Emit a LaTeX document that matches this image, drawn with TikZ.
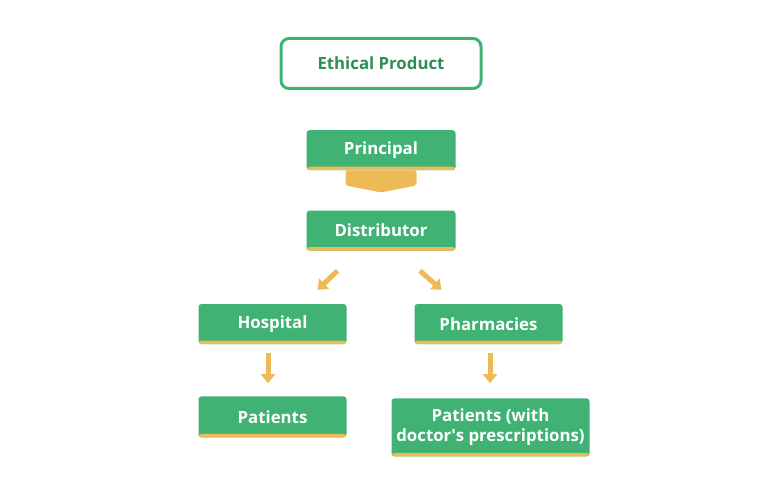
\documentclass[tikz,border=0pt]{standalone}
\usepackage{fontspec}
\setmainfont{Open Sans}
\usepackage{tikz}
\usetikzlibrary{positioning}
\usetikzlibrary{arrows.meta}
\usetikzlibrary{calc}
\definecolor{boxgreen}{RGB}{64,178,115}
\definecolor{textgreen}{RGB}{48,140,88}
\definecolor{stripe}{RGB}{236,187,85}
\tikzset{main box/.style={rectangle,fill=boxgreen,rounded corners=3pt,minimum width=149pt,minimum height=40pt,inner sep=0pt,
    text=white,font=\bfseries\fontsize{16.8}{20}\selectfont,align=center,
    path picture={\fill[stripe] (path picture bounding box.south west) rectangle ([yshift=3.5pt]path picture bounding box.south east);}},}
\tikzset{flow arrow/.style={draw=stripe,line width=5pt,-{Triangle[width=14pt,length=9pt]}},}

\begin{document}
\begin{tikzpicture}[x=1pt, y=-1pt, node distance=40pt]
	\useasboundingbox (0,0) rectangle (768,492);
	\node[draw=boxgreen, line width=3pt, rounded corners=8pt, minimum width=200pt, minimum height=50pt, text=textgreen, font=\bfseries\fontsize{16.8}{20}\selectfont] (ethical) at (381,63.5) {Ethical Product};
	\node[main box] (principal) [below = 40pt of ethical] {Principal};
	\node[main box] (distributor) [below = 40pt of principal] {Distributor};
	\node[main box, minimum width=148pt] (hospital) [below = 53pt of distributor, xshift=-108.5pt] {Hospital};
	\node[main box, minimum width=148pt] (pharmacies) [below = 53pt of distributor, xshift=107.5pt] {Pharmacies};
	\node[main box, minimum width=148pt, minimum height=41pt] (patients) [below = 52pt of hospital] {Patients};
	\node[main box, minimum width=198pt, minimum height=58pt] (patientsrx) [below = 54pt of pharmacies, xshift=2pt] {Patients (with\\doctor\textquotesingle s prescriptions)};

	% chevron between principal and distributor
	\fill[stripe, rounded corners=2pt] ($(principal.south)+(-35.5,0)$) -- ++(0,15) -- ++(35.5,7) -- ++(35.5,-7) -- ++(0,-15) -- cycle;

	\draw[flow arrow] ($(distributor.south)+(-43.5,20)$) -- ($(hospital.north)+(45,-14)$);
	\draw[flow arrow] ($(distributor.south)+(39,20)$) -- ($(pharmacies.north)+(-47,-14)$);
	\draw[flow arrow] ($(hospital.south)+(-4.5,9)$) -- ($(patients.north)+(-4.5,-13)$);
	\draw[flow arrow] ($(pharmacies.south)+(1.5,9)$) -- ($(patientsrx.north)+(-0.5,-15)$);
\end{tikzpicture}
\end{document}
